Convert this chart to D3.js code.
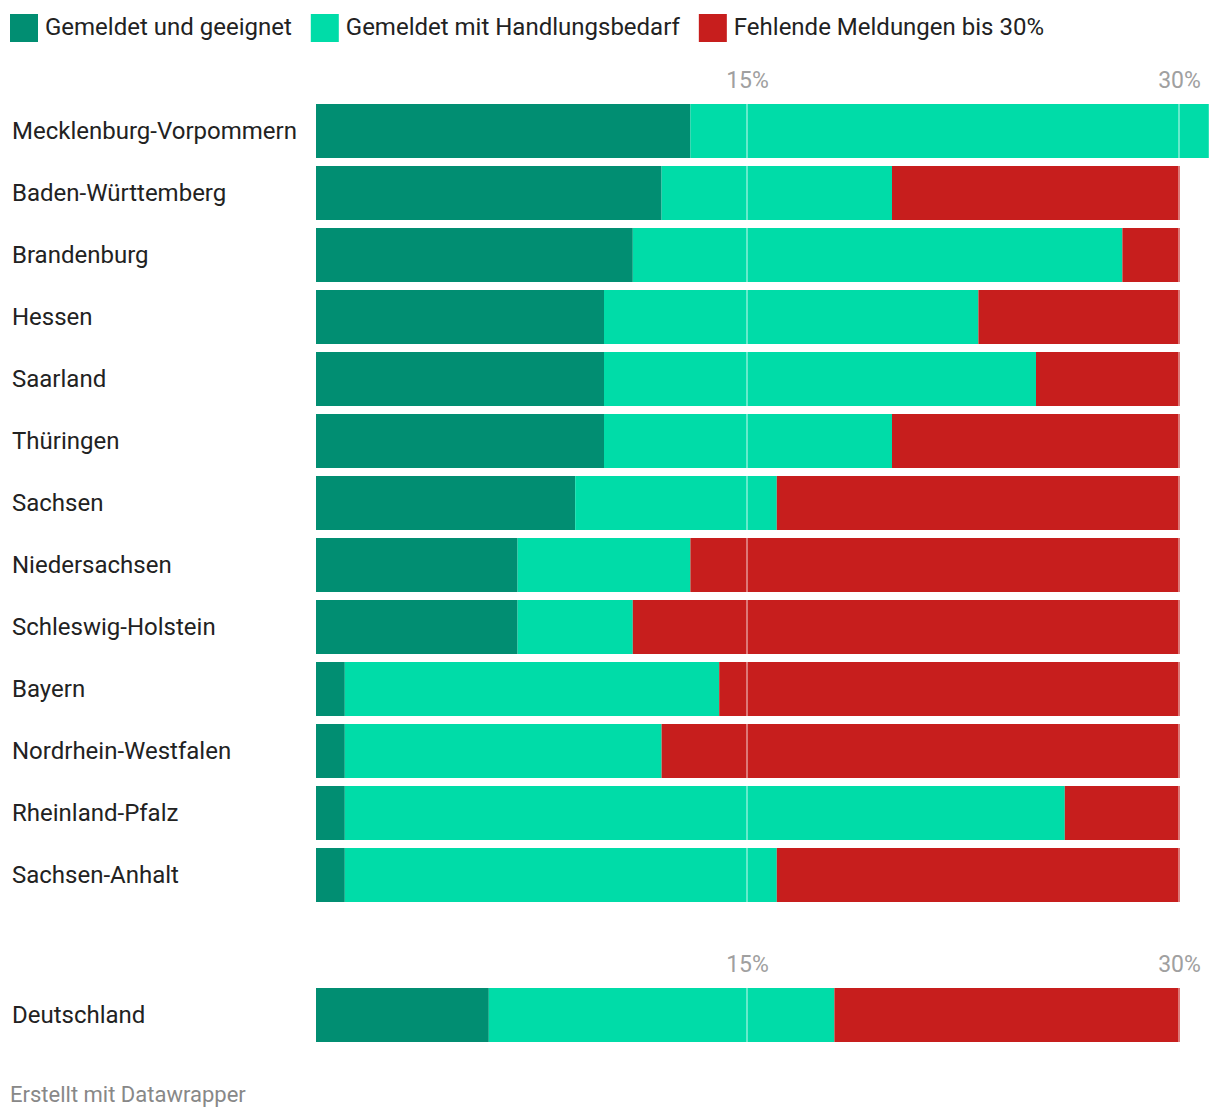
<!DOCTYPE html>
<html><head><meta charset="utf-8">
<script src="https://cdn.jsdelivr.net/npm/d3@7"></script>
<style>
body{margin:0;background:#fff;font-family:Roboto,"Noto Sans",sans-serif;}
</style></head><body>
<svg id="chart" width="1220" height="1120"></svg>
<script>
const categories = ["Mecklenburg-Vorpommern","Baden-Württemberg","Brandenburg","Hessen","Saarland","Thüringen","Sachsen","Niedersachsen","Schleswig-Holstein","Bayern","Nordrhein-Westfalen","Rheinland-Pfalz","Sachsen-Anhalt"];
const gemeldetGeeignet = [13,12,11,10,10,10,9,7,7,1,1,1,1];
const handlungsbedarf  = [18,8,17,13,15,10,7,6,4,13,11,25,15];
const fehlend          = [0,10,2,7,5,10,14,17,19,16,18,4,14];
const totalCategory = ["Deutschland"];
const totalGeeignet = [6];
const totalHandlung = [12];
const totalFehlend = [12];
const seriesNames = ["Gemeldet und geeignet","Gemeldet mit Handlungsbedarf","Fehlende Meldungen bis 30%"];
const seriesColors = ["#018e72","#00dca8","#c71e1d"];
const tickValues = [15,30];
const tickLabels = ["15%","30%"];

const svg = d3.select("#chart");
const x = d3.scaleLinear().domain([0,30]).range([316,1180]);

// Legend
const legend = svg.append("g");
let lx = 10;
seriesNames.forEach((n,i)=>{
  legend.append("rect").attr("x",lx).attr("y",14).attr("width",28).attr("height",28).attr("fill",seriesColors[i]);
  const t = legend.append("text").attr("x",lx+35).attr("y",35).attr("font-size",24).attr("fill","#222").text(n);
  lx += 35 + t.node().getComputedTextLength() + 19;
});

function drawSection(cats, s1, s2, s3, top, tickY){
  const n = cats.length;
  const y = d3.scaleBand().domain(cats).range([top, top + n*62]).padding(0);
  const bh = y.step() - 8;
  const g = svg.append("g");
  const data = cats.map((c,i)=>({c, v:[s1[i],s2[i],s3[i]]}));
  data.forEach(d=>{
    let acc = 0;
    d.v.forEach((v,k)=>{
      if(v>0){
        g.append("rect").attr("x",x(acc)).attr("y",y(d.c)).attr("width",x(acc+v)-x(acc)).attr("height",bh).attr("fill",seriesColors[k]);
      }
      acc += v;
    });
    g.append("text").attr("x",12).attr("y",y(d.c)+bh/2+8).attr("font-size",24).attr("fill","#222").text(d.c);
  });
  tickValues.forEach((t,i)=>{
    g.append("line").attr("x1",x(t)-1).attr("x2",x(t)-1).attr("y1",top).attr("y2",top+n*62-8)
      .attr("stroke","#fff").attr("stroke-opacity",0.4).attr("stroke-width",2);
    g.append("text").attr("x",x(t)-0.5).attr("y",tickY).attr("text-anchor","middle").attr("font-size",23).attr("fill","#a0a0a0").text(tickLabels[i]);
  });
}
drawSection(categories, gemeldetGeeignet, handlungsbedarf, fehlend, 104, 88);
drawSection(totalCategory, totalGeeignet, totalHandlung, totalFehlend, 988, 972);

svg.append("text").attr("x",10).attr("y",1102).attr("font-size",22).attr("fill","#888").text("Erstellt mit Datawrapper");
</script>
</body></html>
